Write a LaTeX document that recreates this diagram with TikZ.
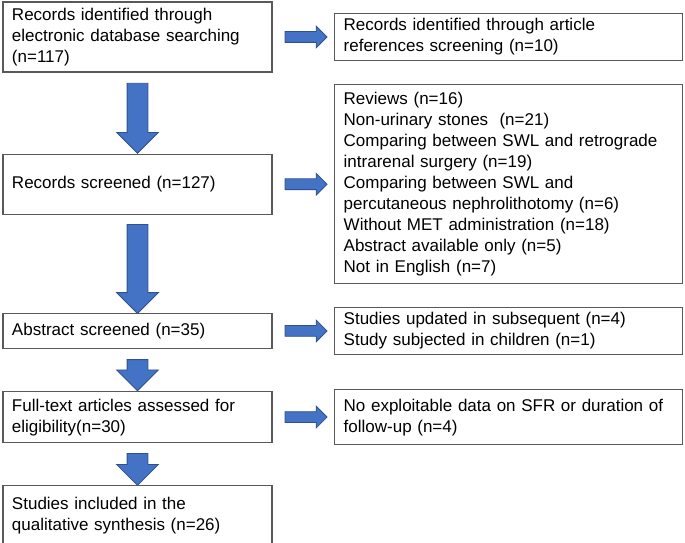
\documentclass[tikz,border=0pt]{standalone}
\usepackage{fontspec}
\setmainfont{Liberation Sans}
\usepackage{xcolor}
\usepackage{tikz}
\usetikzlibrary{shapes,arrows,positioning,calc}
\definecolor{arrowBlue}{HTML}{4472C4}
\definecolor{arrowEdge}{HTML}{2F528F}
\definecolor{boxGray}{HTML}{595959}
\tikzset{prisma-box/.style={
        draw=boxGray,
        line width=1.2pt,
        inner xsep=9pt,
        inner ysep=0pt,
        align=left,
        font=\fontsize{17}{21}\selectfont
    }
}
\tikzset{left-box/.style={prisma-box, text width=251pt}}
\tikzset{right-box/.style={prisma-box, text width=330pt}}
\tikzset{down-arrow/.style={
        single arrow,
        draw=arrowEdge,
        fill=arrowBlue,
        line width=0.8pt,
        inner sep=10pt,
        single arrow tip angle=90,
        single arrow head extend=10.5pt,
        shape border rotate=270
    }
}
\tikzset{side-arrow/.style={
        single arrow,
        draw=arrowEdge,
        fill=arrowBlue,
        line width=0.8pt,
        inner sep=5pt,
        minimum height=42pt,
        single arrow tip angle=90,
        single arrow head extend=5.5pt
    }
}

\begin{document}
\begin{tikzpicture}
    \useasboundingbox (0pt,0pt) rectangle (685pt,-543pt);

    % left column
    \node[left-box, minimum height=70pt] (identified) at (137.5pt,-37pt)
        {Records identified through\\electronic database searching\\(n=117)};
    \node[left-box, minimum height=60pt, below=81pt of identified] (screened)
        {Records screened (n=127)};
    \node[left-box, minimum height=35pt, below=98pt of screened] (abstract)
        {Abstract screened (n=35)};
    \node[left-box, minimum height=51pt, below=42pt of abstract] (fulltext)
        {Full-text articles assessed for\\eligibility(n=30)};
    \node[left-box, minimum height=59pt, below=42pt of fulltext] (included)
        {Studies included in the\\qualitative synthesis (n=26)};

    % right column
    \node[right-box, minimum height=47pt, right=61.5pt of identified] (references)
        {Records identified through article\\references screening (n=10)};
    \node[right-box, minimum height=199pt, right=61.5pt of screened] (excluded)
        {Reviews (n=16)\\Non-urinary stones\ \ (n=21)\\Comparing between SWL and retrograde\\intrarenal surgery (n=19)\\Comparing between SWL and\\percutaneous nephrolithotomy (n=6)\\Without MET administration (n=18)\\Abstract available only (n=5)\\Not in English (n=7)};
    \node[right-box, minimum height=47pt, right=61.5pt of abstract] (updated)
        {Studies updated in subsequent (n=4)\\Study subjected in children (n=1)};
    \node[right-box, minimum height=55pt, right=61.5pt of fulltext] (nodata)
        {No exploitable data on SFR or duration of\\follow-up (n=4)};

    % arrows down
    \node[down-arrow, minimum height=70pt] (arrow1) at ($(identified.south)!0.5!(screened.north)$) {};
    \node[down-arrow, minimum height=89pt] (arrow2) at ($(screened.south)!0.5!(abstract.north)$) {};
    \node[down-arrow, minimum height=31pt] (arrow3) at ($(abstract.south)!0.5!(fulltext.north)$) {};
    \node[down-arrow, minimum height=32pt] (arrow4) at ($(fulltext.south)!0.5!(included.north)$) {};

    % arrows right
    \node[side-arrow] (side1) at ($(identified.east)!0.5!(identified.east -| references.west)$) {};
    \node[side-arrow] (side2) at ($(screened.east)!0.5!(screened.east -| excluded.west)$) {};
    \node[side-arrow] (side3) at ($(abstract.east)!0.5!(abstract.east -| updated.west)$) {};
    \node[side-arrow] (side4) at ($(fulltext.east)!0.5!(fulltext.east -| nodata.west)$) {};
\end{tikzpicture}
\end{document}
